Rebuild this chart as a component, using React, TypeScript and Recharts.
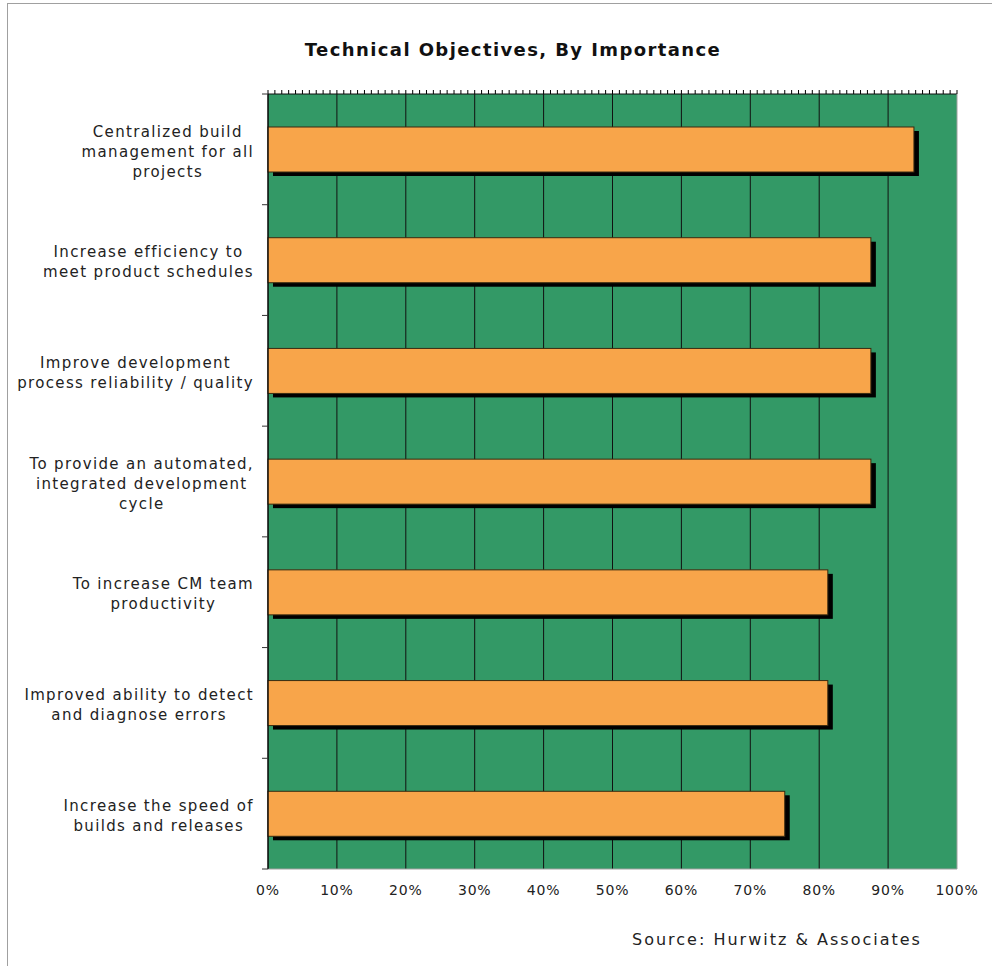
import React from 'react';
import {
  BarChart,
  Bar,
  XAxis,
  YAxis,
  CartesianGrid,
  ReferenceLine,
} from 'recharts';

const categories = [
  'Centralized build\nmanagement for all\nprojects',
  'Increase efficiency to\nmeet product schedules',
  'Improve development\nprocess reliability / quality',
  'To provide an automated,\nintegrated development\ncycle',
  'To increase CM team\nproductivity',
  'Improved ability to detect\nand diagnose errors',
  'Increase the speed of\nbuilds and releases',
];
const shares = [93.75, 87.5, 87.5, 87.5, 81.25, 81.25, 75];
const pctTicks = [0, 10, 20, 30, 40, 50, 60, 70, 80, 90, 100];
// minor tick marks along the top edge, every 1%
const minorTicks = Array.from({ length: 101 }, (_, i) => i);

const data = categories.map((name, i) => ({ name, value: shares[i] }));

const W = 992;
const H = 966;
const LEFT = 268;
const TOP = 94;
const RIGHT = 957;
const BOTTOM = 869;
const BAND = (BOTTOM - TOP) / categories.length;

const FONT = '"DejaVu Sans", Verdana, sans-serif';
const LABEL_SIZE = 15;
const LABEL_LS = 1.35;

let ctx: CanvasRenderingContext2D | null = null;
function textWidth(s: string) {
  if (!ctx) ctx = document.createElement('canvas').getContext('2d');
  if (!ctx) return s.length * 8;
  ctx.font = `${LABEL_SIZE}px "DejaVu Sans"`;
  return ctx.measureText(s).width + LABEL_LS * s.length;
}

function CategoryTick(props: any) {
  const { y, payload, index } = props;
  const lines = String(payload.value).split('\n');
  const maxW = Math.max(...lines.map(textWidth));
  const cx = LEFT - 14 - maxW / 2;
  return (
    <g>
      <line x1={LEFT - 6} x2={LEFT} y1={y - BAND / 2} y2={y - BAND / 2} stroke="#333" />
      {index === categories.length - 1 && (
        <line x1={LEFT - 6} x2={LEFT} y1={y + BAND / 2} y2={y + BAND / 2} stroke="#333" />
      )}
      {lines.map((l, i) => (
        <text
          key={i}
          x={cx}
          y={y + 2 + (i - (lines.length - 1) / 2) * 20}
          dy="0.35em"
          textAnchor="middle"
          fontFamily={FONT}
          fontSize={LABEL_SIZE}
          letterSpacing={LABEL_LS}
          fill="#222"
        >
          {l}
        </text>
      ))}
    </g>
  );
}

function PctTick(props: any) {
  const { x, y, payload } = props;
  const v = payload.value;
  return (
    <g>
      <line x1={x} x2={x} y1={TOP} y2={TOP - 4} stroke="#000" />
      {pctTicks.includes(v) && (
        <text
          x={x}
          y={y + 26}
          textAnchor="middle"
          fontFamily={FONT}
          fontSize={14}
          letterSpacing={0.8}
          fill="#222"
        >
          {v}%
        </text>
      )}
    </g>
  );
}

function ShadowBar(props: any) {
  const { x, y, width, height } = props;
  return (
    <g>
      <rect x={x + 5} y={y + 4} width={width} height={height} fill="#000" />
      <rect x={x} y={y} width={width} height={height} fill="#F8A54A" stroke="#3a2a10" strokeWidth={1} />
    </g>
  );
}

const gridX = ({ xAxis, offset }: any) =>
  pctTicks
    .filter((v) => v < 100)
    .map((v) =>
      xAxis && typeof xAxis.scale === 'function'
        ? xAxis.scale(v)
        : offset.left + (v / 100) * offset.width
    );
const gridY = ({ offset }: any) => [offset.top];

export default function App() {
  return (
    <div style={{ position: 'absolute', left: 0, top: 0, width: W, height: H, overflow: 'hidden', background: '#fff' }}>
      <div
        style={{
          position: 'absolute',
          left: 7,
          top: 3,
          width: W,
          height: H,
          borderLeft: '1px solid #a0a0a0',
          borderTop: '1px solid #a0a0a0',
        }}
      />
      <div style={{ position: 'absolute', left: 0, top: 0 }}>
        <BarChart
          width={W}
          height={H}
          data={data}
          layout="vertical"
          margin={{ top: TOP, right: W - RIGHT, bottom: H - BOTTOM - 30, left: 0 }}
        >
          <CartesianGrid
            fill="#339966"
            fillOpacity={1}
            stroke="#111"
            verticalCoordinatesGenerator={gridX}
            horizontalCoordinatesGenerator={gridY}
          />
          <XAxis
            type="number"
            domain={[0, 100]}
            ticks={minorTicks}
            interval={0}
            tick={PctTick}
            tickLine={false}
            tickSize={0}
            tickMargin={0}
            axisLine={{ stroke: '#a0a0a0' }}
            height={30}
          />
          <YAxis
            type="category"
            dataKey="name"
            width={LEFT}
            interval={0}
            tick={CategoryTick}
            tickLine={false}
            axisLine={{ stroke: '#000' }}
          />
          <ReferenceLine x={100} stroke="#a0a0a0" />
          <Bar
            dataKey="value"
            barSize={45}
            shape={ShadowBar}
            isAnimationActive={false}
          />
        </BarChart>
      </div>
      <svg width={W} height={H} style={{ position: 'absolute', left: 0, top: 0, pointerEvents: 'none' }}>
        <text
          x={513}
          y={56}
          textAnchor="middle"
          fontFamily={FONT}
          fontWeight="bold"
          fontSize={18}
          letterSpacing={1.4}
          fill="#111"
        >
          Technical Objectives, By Importance
        </text>
        <text x={632} y={945} fontFamily={FONT} fontSize={16} letterSpacing={2} fill="#222">
          Source: Hurwitz &amp; Associates
        </text>
      </svg>
    </div>
  );
}
